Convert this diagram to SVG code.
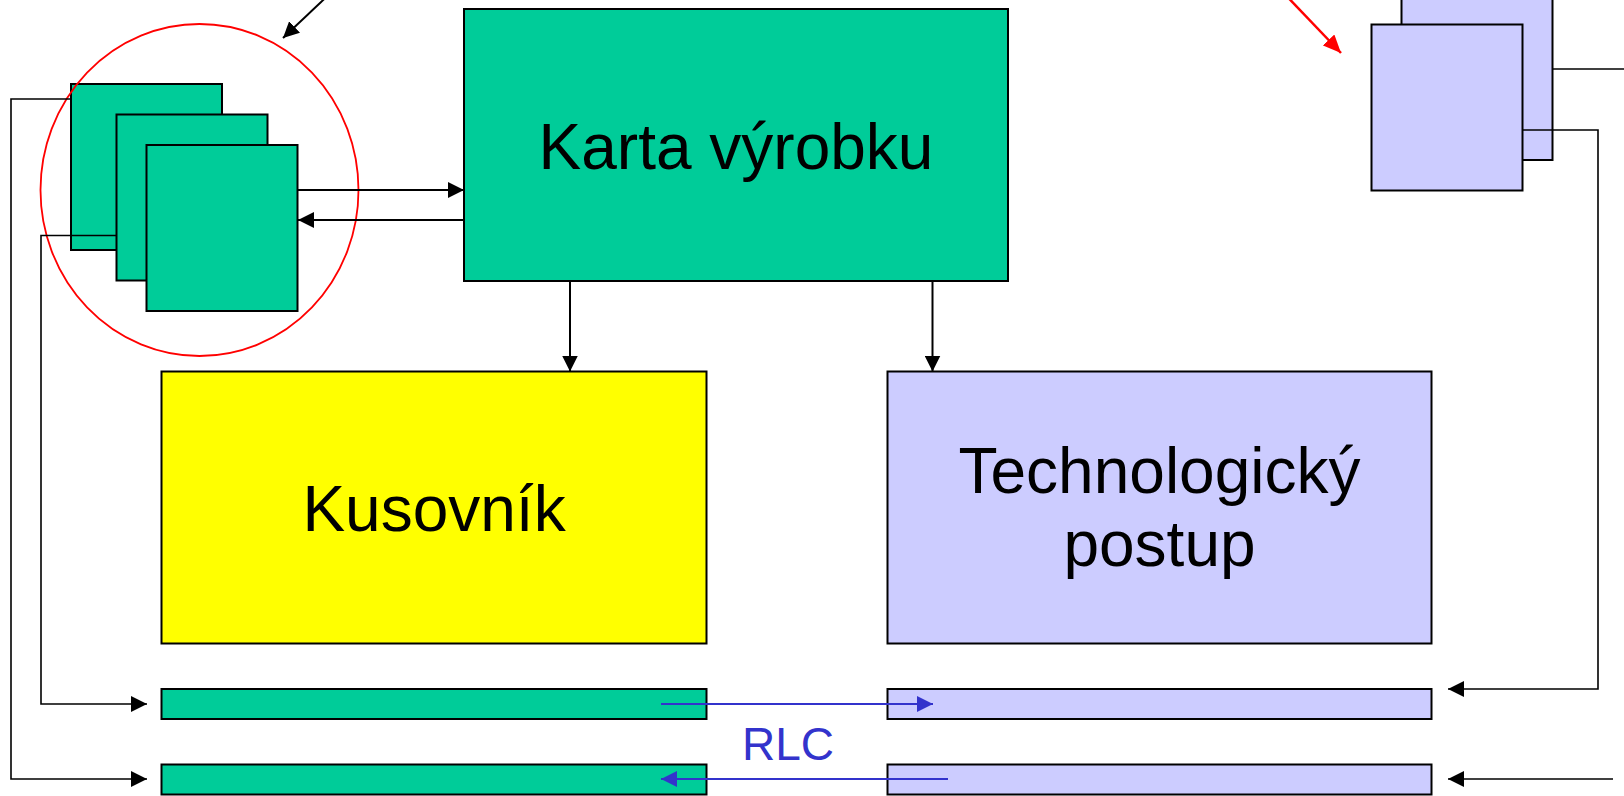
<svg xmlns="http://www.w3.org/2000/svg" width="1624" height="796" viewBox="0 0 1624 796">
<style>
.g{fill:#00CC99;stroke:#000;stroke-width:2}
.y{fill:#FFFF00;stroke:#000;stroke-width:2}
.l{fill:#CCCCFF;stroke:#000;stroke-width:2}
.c{fill:none;stroke:#000;stroke-width:2}
.w{fill:none;stroke:#000;stroke-width:1.6}
.b{fill:none;stroke:#3333CC;stroke-width:2}
.r{fill:none;stroke:#FF0000;stroke-width:2.5}
.t{font-family:"Liberation Sans",Arial,sans-serif;font-size:64px;fill:#000;text-anchor:middle}
.rlc{font-family:"Liberation Sans",Arial,sans-serif;font-size:46px;fill:#3333CC;text-anchor:middle}
</style>
<defs>
<marker id="ak" markerUnits="userSpaceOnUse" markerWidth="16" markerHeight="16" refX="16" refY="8" orient="auto"><path d="M0,0 L16,8 L0,16 z" fill="#000"/></marker>
<marker id="ab" markerUnits="userSpaceOnUse" markerWidth="16" markerHeight="16" refX="16" refY="8" orient="auto"><path d="M0,0 L16,8 L0,16 z" fill="#3333CC"/></marker>
<marker id="ar" markerUnits="userSpaceOnUse" markerWidth="18" markerHeight="16" refX="18" refY="8" orient="auto"><path d="M0,0 L18,8 L0,16 z" fill="#FF0000"/></marker>
</defs>
<rect width="1624" height="796" fill="#fff"/>

<g id="green-stack">
<rect class="g" x="71" y="84" width="151" height="166"/>
<rect class="g" x="116.5" y="114.5" width="151" height="166"/>
<rect class="g" x="146.5" y="145" width="151" height="166"/>
</g>
<g id="lilac-stack">
<rect class="l" x="1401.5" y="-6" width="151" height="166"/>
<rect class="l" x="1371.5" y="24.5" width="151" height="166"/>
</g>
<g id="karta">
<rect class="g" x="464" y="9" width="544" height="272"/>
<text class="t" x="736" y="169">Karta výrobku</text>
</g>
<g id="kusovnik">
<rect class="y" x="161.5" y="371.5" width="545" height="272"/>
<text class="t" x="434" y="531">Kusovník</text>
</g>
<g id="technologicky">
<rect class="l" x="887.5" y="371.5" width="544" height="272"/>
<text class="t" x="1159.5" y="493">Technologický</text>
<text class="t" x="1159.5" y="566">postup</text>
</g>
<g id="bars">
<rect class="g" x="161.5" y="689" width="545" height="30"/>
<rect class="g" x="161.5" y="764.5" width="545" height="30"/>
<rect class="l" x="887.5" y="689" width="544" height="30"/>
<rect class="l" x="887.5" y="764.5" width="544" height="30"/>
</g>
<g id="highlight">
<ellipse class="r" cx="199.5" cy="190" rx="159" ry="166" style="stroke-width:1.8"/>
</g>

<g id="connectors">
<line class="c" x1="298" y1="190" x2="464" y2="190" marker-end="url(#ak)"/>
<line class="c" x1="464" y1="220" x2="298" y2="220" marker-end="url(#ak)"/>
<line class="c" x1="570" y1="281" x2="570" y2="371.5" marker-end="url(#ak)"/>
<line class="c" x1="932.5" y1="281" x2="932.5" y2="371.5" marker-end="url(#ak)"/>
<polyline class="w" points="71,99 11,99 11,779 147,779" marker-end="url(#ak)"/>
<polyline class="w" points="116.5,235.5 41,235.5 41,704 147,704" marker-end="url(#ak)"/>
<polyline class="w" points="1522.5,130 1598,130 1598,689 1448,689" marker-end="url(#ak)"/>
<line class="w" x1="1613" y1="779" x2="1448" y2="779" marker-end="url(#ak)"/>
<line class="w" x1="1552.5" y1="69" x2="1624" y2="69"/>
<line class="c" x1="338" y1="-14" x2="283" y2="38" marker-end="url(#ak)"/>
<line class="r" x1="1277" y1="-14" x2="1341" y2="53" marker-end="url(#ar)"/>
<line class="b" x1="661" y1="704" x2="933" y2="704" marker-end="url(#ab)"/>
<line class="b" x1="948" y1="779" x2="661" y2="779" marker-end="url(#ab)"/>
</g>
<text class="rlc" x="788" y="760">RLC</text>
</svg>
